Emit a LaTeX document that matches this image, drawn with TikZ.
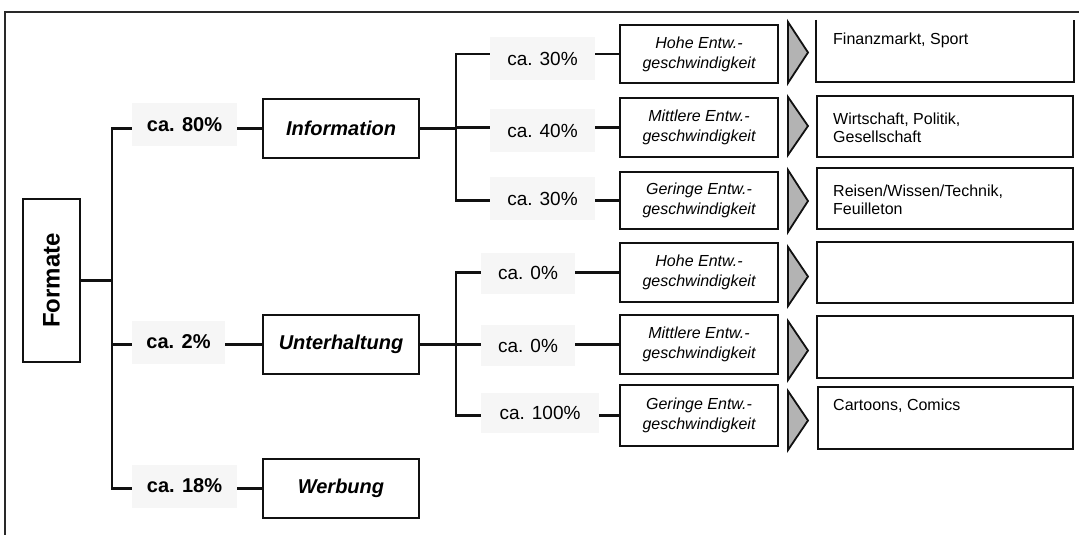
\documentclass[tikz,border=0pt]{standalone}
\usepackage{fontspec}
\setmainfont{Liberation Sans}
\definecolor{lblfill}{HTML}{F6F6F6}
\definecolor{arrfill}{HTML}{B3B3B3}
\definecolor{ink}{HTML}{111111}
\tikzset{
  conn/.style={draw=ink, line width=2.2pt},
  heavyconn/.style={draw=ink, line width=3pt},
  frame/.style={draw=ink!90, line width=1.8pt},
  rootbox/.style={draw=ink, line width=2.2pt, fill=white, inner sep=0pt, rotate=90,
    minimum width=163pt, minimum height=57pt, font=\fontsize{24}{28}\selectfont\bfseries},
  catbox/.style={draw=ink, line width=2.2pt, fill=white, inner sep=0pt,
    minimum width=156pt, minimum height=59pt, font=\fontsize{20}{24}\selectfont\bfseries\itshape},
  pctbold/.style={fill=lblfill, inner sep=0pt, minimum height=43pt,
    font=\fontsize{20}{24}\selectfont\bfseries},
  pct/.style={fill=lblfill, inner sep=0pt, minimum height=42pt,
    font=\fontsize{19}{23}\selectfont},
  speed/.style={draw=ink, line width=2.2pt, fill=white, inner sep=0pt,
    minimum width=158pt, align=center, font=\fontsize{16}{20}\selectfont\itshape},
  topic/.style={draw=ink, line width=2.2pt, inner sep=0pt, minimum width=256pt},
  topictext/.style={anchor=north west, inner sep=0pt, align=left,
    font=\fontsize{16}{18}\selectfont},
  chevron/.style={fill=arrfill, draw=ink, line width=1.8pt, line join=miter}
}
\begin{document}
\begin{tikzpicture}[x=1pt,y=-1pt]
\useasboundingbox (0,0) rectangle (1079,535);
% outer frame
\draw[frame] (5,535) -- (5,12) -- (1079,12);

% root
\node[rootbox] (formate) at (51.5,280.5) {Formate};

% level 1 labels and boxes
\node[pctbold, minimum width=105pt] (p80) at (184.5,124.5) {ca. 80\%};
\node[pctbold, minimum width=93pt]  (p2)  at (178.5,342)   {ca. 2\%};
\node[pctbold, minimum width=105pt] (p18) at (184.5,486)   {ca. 18\%};
\node[catbox] (info) at (341,128.5) {Information};
\node[catbox] (unt)  at (341,344.5) {Unterhaltung};
\node[catbox] (werb) at (341,488.5) {Werbung};

\coordinate (t1) at (112,279);
\draw[conn] (formate.south) -- (formate.south -| t1);
\draw[conn] (p80.west |- info.west) -- (t1 |- info.west) -- (t1 |- werb.west) -- (p18.west |- werb.west);
\draw[conn] (t1 |- unt.west) -- (p2.west |- unt.west);
\draw[conn] (p80.east |- info.west) -- (info.west);
\draw[conn] (p2.east |- unt.west) -- (unt.west);
\draw[conn] (p18.east |- werb.west) -- (werb.west);

% level 2 speed boxes
\node[speed, minimum height=58pt] (s1) at (699,54)    {Hohe Entw.-\\geschwindigkeit};
\node[speed, minimum height=59pt] (s2) at (699,127.5) {Mittlere Entw.-\\geschwindigkeit};
\node[speed, minimum height=57pt] (s3) at (699,200.5) {Geringe Entw.-\\geschwindigkeit};
\node[speed, minimum height=59pt] (s4) at (699,272.5) {Hohe Entw.-\\geschwindigkeit};
\node[speed, minimum height=59pt] (s5) at (699,344.5) {Mittlere Entw.-\\geschwindigkeit};
\node[speed, minimum height=61pt] (s6) at (699,415.5) {Geringe Entw.-\\geschwindigkeit};

% level 2 percentage labels
\node[pct, minimum width=105pt, minimum height=43pt] (q1) at (542.5,58.5)  {ca. 30\%};
\node[pct, minimum width=105pt, minimum height=43pt] (q2) at (542.5,130.5) {ca. 40\%};
\node[pct, minimum width=105pt, minimum height=43pt] (q3) at (542.5,198.5) {ca. 30\%};
\node[pct, minimum width=94pt,  minimum height=41pt] (q4) at (528,273)     {ca. 0\%};
\node[pct, minimum width=94pt,  minimum height=41pt] (q5) at (528,345.5)   {ca. 0\%};
\node[pct, minimum width=118pt, minimum height=40pt] (q6) at (540,413)     {ca. 100\%};

\coordinate (t2) at (456,0);
\draw[heavyconn] (info.east) -- (info.east -| t2);
\draw[heavyconn] (unt.east) -- (unt.east -| t2);
\draw[conn] (q1.west |- s1.west) -- (t2 |- s1.west) -- (t2 |- s3.west) -- (q3.west |- s3.west);
\draw[conn] (t2 |- s2.west) -- (q2.west |- s2.west);
\draw[conn] (q4.west |- s4.west) -- (t2 |- s4.west) -- (t2 |- s6.west) -- (q6.west |- s6.west);
\draw[conn] (t2 |- s5.west) -- (q5.west |- s5.west);
\foreach \i in {1,...,6} {
  \draw[conn] (q\i.east |- s\i.west) -- (s\i.west);
}

% chevrons
\filldraw[chevron] (788,22)  -- (808,52.5)  -- (788,83)  -- cycle;
\filldraw[chevron] (788,97)  -- (808,126)   -- (788,155) -- cycle;
\filldraw[chevron] (788,170) -- (808,201)   -- (788,232) -- cycle;
\filldraw[chevron] (788,247) -- (808,276.5) -- (788,306) -- cycle;
\filldraw[chevron] (788,321) -- (808,350.5) -- (788,380) -- cycle;
\filldraw[chevron] (788,391) -- (808,420.5) -- (788,450) -- cycle;

% topic boxes
\node[topic, draw=none, minimum height=60pt] (r1) at (945,51) {};
\draw[conn] (r1.north west) -- (r1.south west) -- (r1.south east) -- (r1.north east);
\node[topic, minimum height=61pt] (r2) at (945,126.5) {};
\node[topic, minimum height=61pt] (r3) at (945,198.5) {};
\node[topic, minimum height=61pt] (r4) at (945,272.5) {};
\node[topic, minimum height=62pt] (r5) at (945,347)   {};
\node[topic, minimum height=62pt, minimum width=255pt] (r6) at (945.5,418) {};

\node[topictext] (r1t) at (833,33)  {Finanzmarkt, Sport};
\node[topictext] (r2t) at (833,113) {Wirtschaft, Politik,\\Gesellschaft};
\node[topictext] (r3t) at (833,185) {Reisen/Wissen/Technik,\\Feuilleton};
\node[topictext] (r6t) at (833,399) {Cartoons, Comics};
\end{tikzpicture}
\end{document}
